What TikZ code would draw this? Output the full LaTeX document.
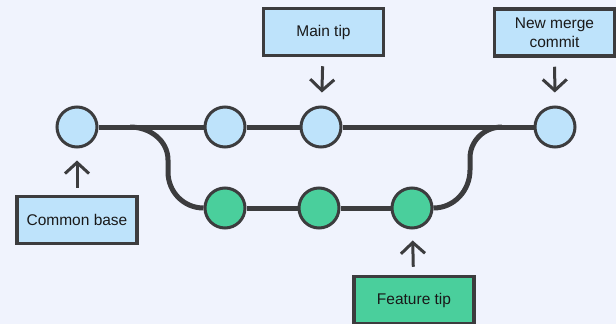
\documentclass[tikz,border=0pt]{standalone}
\usepackage{fontspec}
\setmainfont{Liberation Sans}
\usetikzlibrary{arrows.meta}
\definecolor{BackClr}{rgb}{0.941,0.953,0.992}
\definecolor{MainClr}{rgb}{0.745,0.890,0.984}
\definecolor{FeatClr}{rgb}{0.290,0.812,0.612}
\definecolor{LineClr}{rgb}{0.235,0.235,0.243}

\begin{document}
\begin{tikzpicture}[x=1pt,y=-1pt,
  commit/.style={circle,draw=LineClr,line width=3pt,minimum size=40pt,inner sep=0pt},
  tag/.style={rectangle,draw=LineClr,line width=3.5pt,minimum width=120pt,minimum height=47pt,
    align=center,text=black!90,font=\fontsize{15.5}{19}\selectfont},
  branch/.style={draw=LineClr,line width=5pt},
  pointer/.style={draw=LineClr,line width=3pt,-{Straight Barb[length=11pt,width=24pt]}}]

\fill[BackClr] (0,0) rectangle (616,324);
\useasboundingbox (0,0) rectangle (616,324);

\node[commit,fill=MainClr] (base) at (77,127) {};
\node[commit,fill=MainClr] (m1) at (225,127) {};
\node[commit,fill=MainClr] (m2) at (321,127) {};
\node[commit,fill=MainClr] (merge) at (555,127) {};
\node[commit,fill=FeatClr] (f1) at (225,208) {};
\node[commit,fill=FeatClr] (f2) at (319,208) {};
\node[commit,fill=FeatClr] (f3) at (412,208) {};

\coordinate (fork) at (130,127);
\coordinate (dipA) at (168,160);
\coordinate (dipB) at (168,172);
\coordinate (riseA) at (470,170);
\coordinate (riseB) at (470,158);
\coordinate (join) at (502,127);

\node[tag,fill=MainClr] (maintip) at (323.5,32) {Main tip};
\node[tag,fill=MainClr] (mergetip) at (554.5,32.5) {New merge\\commit};
\node[tag,fill=MainClr] (basetip) at (77,220) {Common base};
\node[tag,fill=FeatClr] (feattip) at (414,300) {Feature tip};

\draw[branch] (base) -- (m1) -- (m2) -- (merge);
\draw[branch] (fork) to[out=0,in=90] (dipA) -- (dipB) to[out=-90,in=180] (f1);
\draw[branch] (f1) -- (f2) -- (f3);
\draw[branch] (f3) to[out=0,in=-90] (riseA) -- (riseB) to[out=90,in=180] (join);

\draw[pointer,shorten <=9pt,shorten >=13pt] (maintip) -- (m2);
\draw[pointer,shorten <=9pt,shorten >=13pt] (mergetip) -- (merge);
\draw[pointer,shorten <=7pt,shorten >=12pt] (basetip) -- (base);
\draw[pointer,shorten <=8pt,shorten >=11pt] (feattip) -- (f3);

\end{tikzpicture}
\end{document}
